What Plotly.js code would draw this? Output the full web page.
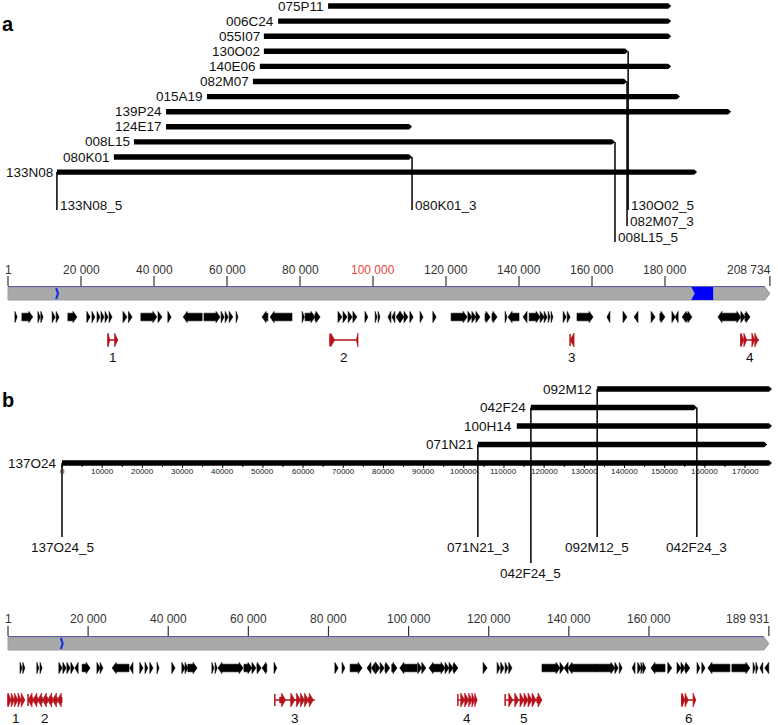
<!DOCTYPE html>
<html><head><meta charset="utf-8">
<script src="https://cdn.plot.ly/plotly-3.0.1.min.js"></script>
<style>body{margin:0;background:#fff}#chart{width:778px;height:725px}</style>
</head><body><div id="chart"></div>
<script>
// ================= DATA (kb) =================
// Panel a : BAC clones mapped on genome A
const clonesA     = ['075P11','006C24','055I07','130O02','140E06','082M07','015A19','139P24','124E17','008L15','080K01','133N08'];
const cloneStartA = [87.7, 74.0, 70.1, 70.1, 69.0, 67.1, 54.5, 43.3, 43.3, 34.5, 29.0, 13.4];
const cloneEndA   = [181.7,181.7,181.7,169.9,181.7,169.6,184.1,198.1,110.7,166.3,110.7,188.8];
const endLabelA   = ['133N08_5','080K01_3','130O02_5','082M07_3','008L15_5'];
const endCloneA   = ['133N08','080K01','130O02','082M07','008L15'];
const endSideA    = ['start','end','end','end','end'];
const endLevelA   = [0,0,0,1,2];

// Genome A ruler
const genomeLenA  = 208.734;
const tickValA    = [0,20,40,60,80,100,120,140,160,180,208.734];
const tickTextA   = ['1','20 000','40 000','60 000','80 000','100 000','120 000','140 000','160 000','180 000','208 734'];
const blueMarkA   = 13.2;
const blueRegionA = [187.2, 193.2];

// Genome A genes [start, end, strand]
const genesA = [
 [1.9,2.5,1],[3.8,6.8,1],[8.2,8.8,1],[9.0,9.6,1],[12.1,12.9,1],[13.2,14.0,1],[16.4,18.9,1],
 [21.6,22.5,1],[23.0,23.8,1],[24.4,25.2,1],[25.5,26.3,1],[26.6,27.4,1],[27.7,28.5,1],
 [31.5,32.6,1],[33.0,34.0,1],[36.4,40.8,1],[41.1,42.2,1],[43.8,44.7,1],
 [48.0,53.2,-1],[53.7,58.1,1],[58.4,59.2,1],[59.5,60.3,1],[60.6,61.6,1],[62.5,63.0,1],
 [69.6,71.2,-1],[71.8,77.8,-1],[80.6,81.2,1],[81.4,84.1,1],[84.1,85.5,1],
 [90.4,91.5,1],[91.8,92.9,1],[93.2,94.3,1],[94.5,95.6,1],[97.8,98.6,1],[100.6,101.1,1],[101.4,101.9,1],
 [104.1,104.9,-1],[105.2,106.0,-1],[106.3,107.4,-1],[107.4,108.5,1],[108.5,109.6,1],
 [110.1,111.0,1],[112.9,113.7,1],[116.4,117.3,1],[121.4,125.8,1],[126.0,127.1,1],[127.1,128.2,1],[128.2,129.3,1],
 [130.7,132.1,1],[132.6,134.0,1],[136.2,136.7,1],[137.0,140.0,-1],[141.1,142.2,-1],
 [142.8,145.8,1],[145.8,146.9,1],[146.9,147.7,1],[148.0,148.5,1],[148.8,149.3,1],
 [152.1,152.9,1],[153.2,154.0,1],[155.9,160.3,1],[164.1,164.9,-1],[168.5,169.6,1],[171.5,172.6,-1],
 [176.2,177.3,1],[178.6,180.0,1],[181.9,182.8,1],[182.8,183.6,-1],[184.7,185.8,-1],[185.8,187.4,1],
 [194.5,199.7,-1],[199.7,200.8,1],[200.8,201.9,1],[201.9,203.3,1]
];
// Genome A highlighted clusters
const redStartA = [27.4, 88.2, 154.0, 200.8];
const redEndA   = [30.1, 95.9, 155.1, 205.8];
const redLabelA = ['1','2','3','4'];
const redGenesA = [[27.4,27.9,1],[29.2,30.1,1],[88.3,89.5,1],[95.4,95.9,-1],[154.0,155.1,-1],
  [200.8,201.6,1],[201.6,202.4,1],[203.8,204.6,1],[204.6,205.5,1]];

// Panel b : BAC clones on physical map (kb)
const clonesB     = ['092M12','042F24','100H14','071N21','137O24'];
const cloneStartB = [133.2,116.7,113.2,103.5,0];
const cloneEndB   = [176.7,158.0,176.7,175.5,176.7];
const endLabelB   = ['137O24_5','071N21_3','042F24_5','092M12_5','042F24_3'];
const endCloneB   = ['137O24','071N21','042F24','092M12','042F24'];
const endSideB    = ['start','start','start','start','end'];
const endLevelB   = [0,0,1,0,0];
const mapTicksB   = [0,10,20,30,40,50,60,70,80,90,100,110,120,130,140,150,160,170];
const mapTickTextB= ['0','10000','20000','30000','40000','50000','60000','70000','80000','90000','100000','110000','120000','130000','140000','150000','160000','170000'];

// Genome B ruler
const genomeLenB  = 189.931;
const tickValB    = [0,20,40,60,80,100,120,140,160,189.931];
const tickTextB   = ['1','20 000','40 000','60 000','80 000','100 000','120 000','140 000','160 000','189 931'];
const blueMarkB   = 13.2;

const genesB = [
 [3.0,3.5,1],[3.7,4.2,1],[7.2,7.7,1],[8.0,8.5,1],[12.7,13.5,1],[13.7,14.5,1],[14.7,15.5,1],[15.7,16.5,1],[16.7,17.5,-1],
 [18.5,20.5,1],[22.2,23.0,1],[23.0,23.7,1],[26.0,30.2,-1],[30.4,31.2,-1],
 [32.9,33.7,1],[34.2,34.9,1],[35.4,36.2,1],[37.2,37.7,1],[40.9,41.7,1],
 [43.4,44.2,1],[44.2,44.9,1],[44.9,47.2,1],[50.9,51.4,1],[51.7,52.2,1],
 [52.4,56.7,-1],[56.7,58.7,1],[58.9,60.9,1],[60.9,61.9,1],[62.1,63.2,1],[63.4,64.6,-1],[66.4,67.1,1],
 [81.6,82.4,1],[83.4,84.1,1],[85.4,88.4,1],[89.6,90.6,-1],[90.7,91.7,-1],[91.8,92.8,1],[92.9,93.9,1],[94.1,95.3,1],
 [95.8,97.1,1],[97.8,102.1,-1],[102.3,103.3,1],[103.3,104.3,1],[105.1,106.1,-1],[106.1,109.1,1],
 [109.1,110.1,1],[110.1,111.1,1],[111.1,112.3,1],[118.6,119.6,1],
 [122.1,122.8,1],[123.0,123.8,1],[124.1,124.8,1],[125.0,125.8,1],
 [133.3,137.8,1],[137.8,138.8,1],[138.8,139.8,-1],[139.8,147.0,-1],[147.0,151.5,1],[151.5,152.3,1],[152.6,153.3,1],
 [155.8,156.5,-1],[157.2,158.0,1],[158.0,158.5,1],[158.5,159.2,1],[160.5,164.0,-1],[164.7,165.7,1],
 [167.0,168.0,1],[168.0,169.0,1],[169.0,170.2,1],[172.0,172.7,1],[173.2,174.0,1],
 [174.7,180.2,-1],[180.7,185.2,1],[186.0,186.5,1],[186.7,187.2,1],[187.7,188.4,-1],[188.9,189.9,-1]
];
const redStartB = [0.0, 5.0, 66.6, 112.3, 124.1, 168.2];
const redEndB   = [4.2, 13.5, 76.6, 117.1, 133.3, 171.7];
const redLabelB = ['1','2','3','4','5','6'];
const redGenesB = [
 [0.0,0.8,1],[0.8,1.6,1],[1.6,2.5,1],[2.5,3.3,1],[3.3,4.2,1],
 [5.0,6.2,-1],[6.2,7.4,-1],[7.4,8.6,-1],[8.6,9.9,-1],[9.9,11.1,-1],[11.1,12.3,-1],[12.3,13.5,-1],
 [67.8,69.3,1],[70.5,71.6,1],[72.0,73.0,1],[73.0,74.0,1],[74.0,75.0,1],[75.0,76.2,1],
 [113.0,114.0,1],[114.0,115.0,1],[115.0,115.8,1],[115.8,116.5,1],[116.5,117.1,1],
 [125.0,126.0,1],[126.5,127.5,1],[127.8,128.8,1],[128.8,129.8,1],[129.8,130.8,1],[130.8,131.8,1],[132.0,133.3,1],
 [168.2,169.0,1],[169.0,169.8,1],[171.0,171.7,1]
];

// ================= DRAWING =================
const W = 778, H = 725;
const rangeA = [-2.192, 210.959], rangeB = [-15.43, 178.2], rangeG = [-1.997, 192.21];
const sc = r => W / (r[1] - r[0]);   // px per kb
const sA = sc(rangeA), sB = sc(rangeB), sG = sc(rangeG);
const FONT = 'Liberation Sans, Arial, Helvetica, sans-serif';
const traces = [], ann = [];

function poly(xs, ys, xa, color, lw, lc) {
  traces.push({type:'scatter', mode:'lines', x:xs, y:ys, xaxis:xa, yaxis:'y', fill:'toself',
    fillcolor:color, line:{width:lw||0, color:lc||color}, hoverinfo:'skip', showlegend:false});
}
function lines(xs, ys, xa, color, w) {
  traces.push({type:'scatter', mode:'lines', x:xs, y:ys, xaxis:xa, yaxis:'y',
    line:{width:w, color:color}, hoverinfo:'skip', showlegend:false, connectgaps:false});
}
function txt(t, x, y, xa, o) {
  ann.push(Object.assign({text:t, x:x, y:y, xref:xa, yref:'y', showarrow:false,
    font:{size:13.5, color:'#111', family:FONT}, xanchor:'center', yanchor:'middle'}, o||{}));
}
function cloneBars(starts, ends, ys, xa, s) {
  const xs = [], yy = [], h = 2.7, tip = 3 / s;
  starts.forEach((st, i) => {
    const e = ends[i], y = ys[i];
    xs.push(st, e - tip, e, e - tip, st, st, null);
    yy.push(y - h, y - h, y, y + h, y + h, y - h, null);
  });
  poly(xs, yy, xa, '#000');
}
function genes(list, yc, bodyH, headH, s, xa, color) {
  const xs = [], ys = [], head = 4 / s;
  list.forEach(([st, e, d]) => {
    const hl = Math.min(head, e - st);
    if (d > 0) { const b = e - hl; xs.push(st, b, b, e, b, b, st, st, null); }
    else { const b = st + hl; xs.push(e, b, b, st, b, b, e, e, null); }
    ys.push(yc - bodyH, yc - bodyH, yc - headH, yc, yc + headH, yc + bodyH, yc + bodyH, yc - bodyH, null);
  });
  poly(xs, ys, xa, color, 0.6, color);
}
function genomeBar(len, top, bot, s, xa) {
  const tip = 5 / s, mid = (top + bot) / 2;
  poly([0, len - tip, len, len - tip, 0, 0], [top, top, mid, bot, bot, top], xa, '#a9a9a9', 1, '#9a9aa8');
  lines([0, len - tip], [top - 0.5, top - 0.5], xa, '#5c5ca6', 1.2);
}
function ruler(vals, texts, rulerY, labY, xa, hiVal) {
  const xs = [], ys = [];
  vals.forEach(v => { xs.push(v, v, null); ys.push(rulerY - 10, rulerY, null); });
  lines(xs, ys, xa, '#333', 1.2);
  vals.forEach((v, i) => {
    const last = i === vals.length - 1;
    txt(texts[i], v, labY, xa, {font:{size:12, family:FONT, color: v === hiVal ? '#e8453c' : '#333'},
      xanchor: last ? 'right' : 'center', xshift: last ? 3 : 0});
  });
}
function blueMark(v, top, bot, s, xa) {
  const w = 1.8 / s;
  lines([v, v + w, v], [top, (top + bot) / 2, bot], xa, '#1a2fe0', 2.2);
}
function redClusters(starts, ends, labels, list, yc, labY, s, xa) {
  const col = '#b5121b';
  const xs = [], ys = [];
  starts.forEach((st, i) => {
    if (ends[i] - st > 1.5) { xs.push(st, ends[i], null); ys.push(yc, yc, null); }
    xs.push(st, st, null); ys.push(yc - 6, yc + 6, null);
    txt(labels[i], (st + ends[i]) / 2, labY, xa, {font:{size:13.5, family:FONT, color:'#111'}});
  });
  lines(xs, ys, xa, col, 1.5);
  genes(list, yc, 3, 7, s, xa, col);
}

// ---- Panel a : clones ----
const rowYA = clonesA.map((_, i) => 6 + 15.1 * i);
cloneBars(cloneStartA, cloneEndA, rowYA, 'x', sA);
clonesA.forEach((n, i) => txt(n, cloneStartA[i], rowYA[i], 'x', {xanchor:'right', xshift:-2}));
(function(){
  const xs = [], ys = [];
  endLabelA.forEach((lab, k) => {
    const i = clonesA.indexOf(endCloneA[k]);
    const xv = endSideA[k] === 'start' ? cloneStartA[i] : cloneEndA[i];
    const ly = 205 + 16 * endLevelA[k];
    xs.push(xv, xv, null); ys.push(rowYA[i], ly + 5, null);
    txt(lab, xv, ly, 'x', {xanchor:'left', xshift:1});
  });
  lines(xs, ys, 'x', '#000', 1.5);
})();

// ---- Panel a : genome ----
ruler(tickValA, tickTextA, 286, 270, 'x', 100);
genomeBar(genomeLenA, 287, 300, sA, 'x');
poly([blueRegionA[0], blueRegionA[1], blueRegionA[1], blueRegionA[0], blueRegionA[0] + 3.5 / sA, blueRegionA[0]],
     [287, 287, 300, 300, 293.5, 287], 'x', '#0000ff');
blueMark(blueMarkA, 288, 299, sA, 'x');
genes(genesA, 317, 3.8, 5.6, sA, 'x', '#000');
redClusters(redStartA, redEndA, redLabelA, redGenesA, 340, 357, sA, 'x');

// ---- Panel b : clones ----
const rowYB = clonesB.map((_, i) => 389 + 18.5 * i);
cloneBars(cloneStartB, cloneEndB, rowYB, 'x2', sB);
clonesB.forEach((n, i) => txt(n, cloneStartB[i], rowYB[i], 'x2', {xanchor:'right', xshift:-3}));
(function(){
  const xs = [], ys = [];
  mapTicksB.forEach(v => { xs.push(v, v, null); ys.push(465, 468, null); });
  mapTicksB.slice(0, -1).forEach(v => { xs.push(v + 5, v + 5, null); ys.push(465, 467, null); });
  lines(xs, ys, 'x2', '#000', 1);
  mapTicksB.forEach((v, i) => txt(mapTickTextB[i], v, 471, 'x2', {font:{size:8, family:FONT, color:'#222'}}));
  const vx = [], vy = [];
  endLabelB.forEach((lab, k) => {
    const i = clonesB.indexOf(endCloneB[k]);
    const xv = endSideB[k] === 'start' ? cloneStartB[i] : cloneEndB[i];
    const bot = 537 + 26 * endLevelB[k];
    vx.push(xv, xv, null); vy.push(rowYB[i], bot, null);
    txt(lab, xv, bot + 10, 'x2', {});
  });
  lines(vx, vy, 'x2', '#000', 1.5);
})();

// ---- Panel b : genome ----
ruler(tickValB, tickTextB, 636, 619, 'x3', null);
genomeBar(genomeLenB, 637, 650, sG, 'x3');
blueMark(blueMarkB, 638, 649, sG, 'x3');
genes(genesB, 668, 3.8, 5.6, sG, 'x3', '#000');
redClusters(redStartB, redEndB, redLabelB, redGenesB, 700, 718, sG, 'x3');

// panel letters
ann.push({text:'<b>a</b>', x:0, y:24, xref:'x', yref:'y', showarrow:false, xanchor:'left', yanchor:'middle',
  font:{size:20, family:FONT, color:'#000'}, xshift:-8});
ann.push({text:'<b>b</b>', x:0, y:400, xref:'x', yref:'y', showarrow:false, xanchor:'left', yanchor:'middle',
  font:{size:20, family:FONT, color:'#000'}, xshift:-8});

const ax = r => ({range:r, autorange:false, visible:false, showgrid:false, zeroline:false, fixedrange:true});
const layout = {
  width:W, height:H, margin:{l:0, r:0, t:0, b:0}, paper_bgcolor:'#fff', plot_bgcolor:'#fff',
  showlegend:false, font:{family:FONT},
  xaxis: ax(rangeA),
  xaxis2: Object.assign(ax(rangeB), {overlaying:'x', anchor:'y'}),
  xaxis3: Object.assign(ax(rangeG), {overlaying:'x', anchor:'y'}),
  yaxis: {range:[H, 0], autorange:false, visible:false, showgrid:false, zeroline:false, fixedrange:true},
  annotations: ann
};
Plotly.newPlot('chart', traces, layout, {staticPlot:true, displayModeBar:false});
</script></body></html>
